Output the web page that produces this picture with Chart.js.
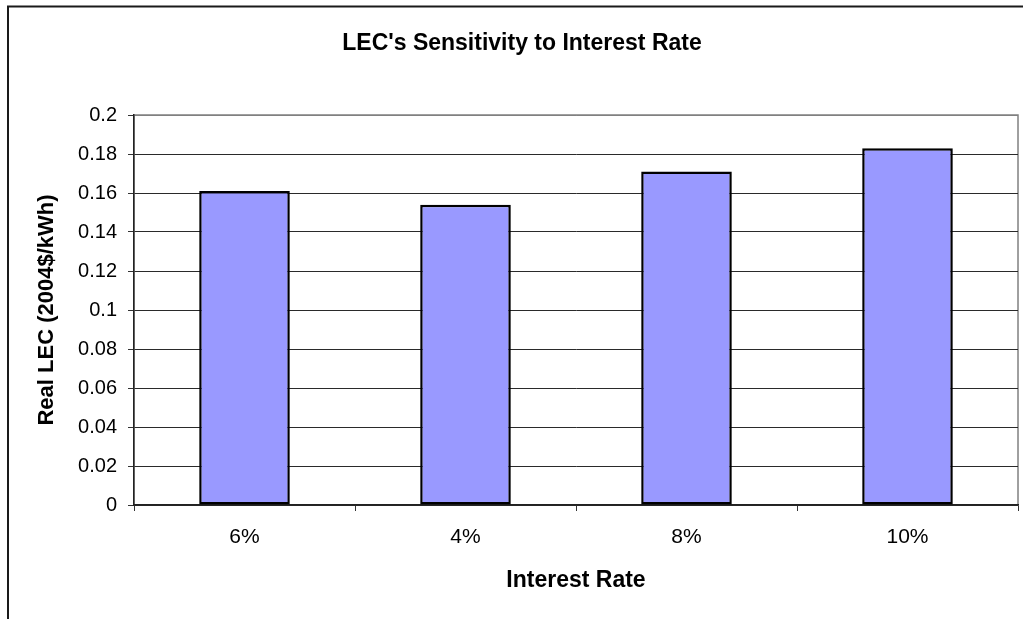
<!DOCTYPE html>
<html>
<head>
    <title>LEC Sensitivity to Interest Rate</title>
    <script src="https://cdn.jsdelivr.net/npm/chart.js"></script>
    <style>
        body { margin: 0; background: #fff; }
    </style>
</head>
<body>
    <canvas id="lecChart" width="1023" height="619"></canvas>

    <script>
        // Interest rate cases and the resulting real LEC (2004$/kWh)
        const rateLabels = ['6%', '4%', '8%', '10%'];
        const lecValues = [0.161, 0.154, 0.171, 0.183];

        const FONT = '"Liberation Sans", Arial, sans-serif';

        // Outer frame of the chart and grey plot-area border
        const framePlugin = {
            id: 'frame',
            beforeDraw(chart) {
                const c = chart.ctx;
                const a = chart.chartArea;
                c.save();
                c.strokeStyle = '#808080';
                c.lineWidth = 1.5;
                c.strokeRect(a.left, a.top, a.right - a.left, a.bottom - a.top);
                c.strokeStyle = '#1a1a1a';
                c.lineWidth = 2;
                c.beginPath();
                c.moveTo(8, chart.height);
                c.lineTo(8, 6.5);
                c.lineTo(chart.width, 6.5);
                c.stroke();
                c.restore();
            }
        };

        const ctx = document.getElementById('lecChart').getContext('2d');

        new Chart(ctx, {
            type: 'bar',
            data: {
                labels: rateLabels,
                datasets: [{
                    data: lecValues,
                    backgroundColor: '#9999ff',
                    borderColor: '#000',
                    borderWidth: 2.5,
                    borderSkipped: false,
                    barPercentage: 0.41,
                    categoryPercentage: 1
                }]
            },
            options: {
                responsive: false,
                animation: false,
                layout: {
                    padding: { left: 26, right: 5, top: 0, bottom: 0 }
                },
                plugins: {
                    legend: { display: false },
                    tooltip: { enabled: false },
                    title: {
                        display: true,
                        text: "LEC's Sensitivity to Interest Rate",
                        color: '#000',
                        font: { family: FONT, size: 23, weight: 'bold' },
                        padding: { top: 30, bottom: 57.4 }
                    }
                },
                scales: {
                    x: {
                        grid: {
                            offset: true,
                            drawOnChartArea: false,
                            drawTicks: true,
                            tickLength: 6,
                            tickColor: '#333'
                        },
                        border: { color: '#222', width: 1.5 },
                        ticks: {
                            color: '#000',
                            padding: 14,
                            font: { family: FONT, size: 21 }
                        },
                        title: {
                            display: true,
                            text: 'Interest Rate',
                            color: '#000',
                            font: { family: FONT, size: 23, weight: 'bold' },
                            padding: { top: 0, bottom: 25 }
                        },
                        afterFit: (s) => { s.height = 114; }
                    },
                    y: {
                        min: 0,
                        max: 0.2,
                        grid: {
                            color: (c) => (c.tick && c.tick.value >= 0.199 ? '#808080' : '#2a2a2a'),
                            tickColor: '#333',
                            tickLength: 6
                        },
                        border: { color: '#222', width: 1.5 },
                        ticks: {
                            stepSize: 0.02,
                            color: '#000',
                            padding: 11,
                            font: { family: FONT, size: 20 },
                            callback: (v) => String(parseFloat(Number(v).toFixed(2)))
                        },
                        title: {
                            display: true,
                            text: 'Real LEC (2004$/kWh)',
                            color: '#000',
                            font: { family: FONT, size: 22, weight: 'bold' },
                            padding: { top: 8, bottom: 0 }
                        },
                        afterFit: (s) => { s.width = 108; }
                    }
                }
            },
            plugins: [framePlugin]
        });
    </script>
</body>
</html>
